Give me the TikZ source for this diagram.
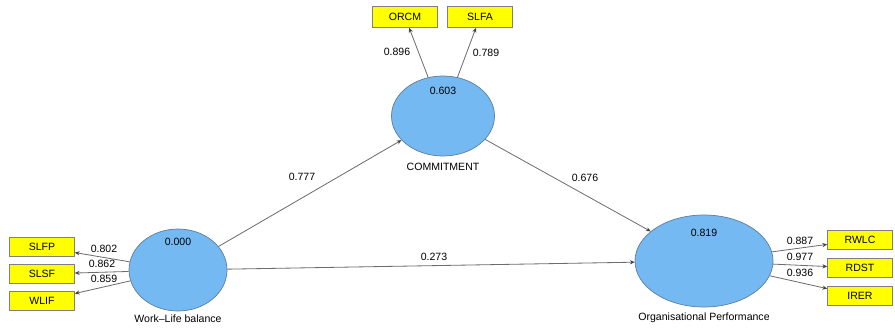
\documentclass[tikz,border=0pt]{standalone}
\usepackage{fontspec}
\setmainfont{Liberation Sans}
\usetikzlibrary{shapes.geometric, arrows.meta}
\definecolor{lvblue}{HTML}{74B9F2}
\definecolor{lvedge}{HTML}{5F7D9C}
\definecolor{mvyellow}{HTML}{FFFF00}
\tikzset{
  latent/.style={draw=lvedge, fill=lvblue, ellipse, inner sep=0pt, line width=0.6pt},
  manifest/.style={draw=gray, fill=mvyellow, minimum width=1.95cm, minimum height=0.56cm, inner sep=0pt, line width=0.6pt},
  path/.style={draw=gray!85!black, line width=0.7pt, -{Stealth[length=4pt, width=3.5pt, color=black!75]}},
  coef/.style={inner sep=0pt}
}
\begin{document}
\begin{tikzpicture}[x=0.03cm, y=-0.03cm, font=\fontsize{9}{11}\selectfont]
        \useasboundingbox (0, 0) rectangle (895, 328);
        % latent variables
        \node[latent, minimum width=2.94cm, minimum height=2.46cm] (WLB) at (178, 270) {};
        \node[latent, minimum width=3.09cm, minimum height=2.4cm] (COM) at (443, 116) {};
        \node[latent, minimum width=4.14cm, minimum height=2.76cm] (OP) at (704, 261) {};
        \node[coef] (R2wlb) at (178, 242) {0.000};
        \node[coef] (R2com) at (443, 91) {0.603};
        \node[coef] (R2op) at (704, 233) {0.819};
        \node (Nwlb) at (178, 319) {Work--Life balance};
        \node (Ncom) at (443, 167) {COMMITMENT};
        \node (Nop) at (704, 318) {Organisational Performance};
        % indicators
        \node[manifest] (SLFP) at (42, 247) {SLFP};
        \node[manifest] (SLSF) at (42, 274) {SLSF};
        \node[manifest] (WLIF) at (42, 301) {WLIF};
        \node[manifest, minimum height=0.63cm] (ORCM) at (405, 17) {ORCM};
        \node[manifest, minimum height=0.63cm] (SLFA) at (480, 17) {SLFA};
        \node[manifest] (RWLC) at (860, 240) {RWLC};
        \node[manifest] (RDST) at (860, 268) {RDST};
        \node[manifest] (IRER) at (860, 296) {IRER};
        % loadings
        \draw[path] (WLB) -- (SLFP);
        \draw[path] (WLB) -- (SLSF);
        \draw[path] (WLB) -- (WLIF);
        \draw[path] (COM) -- (ORCM);
        \draw[path] (COM) -- (SLFA);
        \draw[path] (OP) -- (RWLC);
        \draw[path] (OP) -- (RDST);
        \draw[path] (OP) -- (IRER);
        \node[coef] (L1) at (104, 249) {0.802};
        \node[coef] (L2) at (102, 264) {0.862};
        \node[coef] (L3) at (104, 279) {0.859};
        \node[coef] (L4) at (397, 52) {0.896};
        \node[coef] (L5) at (486, 53) {0.789};
        \node[coef] (L6) at (800, 241) {0.887};
        \node[coef] (L7) at (800, 257) {0.977};
        \node[coef] (L8) at (800, 273) {0.936};
        % structural paths
        \draw[path] (WLB) -- (COM);
        \draw[path] (COM) -- (OP);
        \draw[path] (WLB) -- (OP);
        \node[coef] (B1) at (302, 177) {0.777};
        \node[coef] (B2) at (585, 178) {0.676};
        \node[coef] (B3) at (434, 257) {0.273};
\end{tikzpicture}
\end{document}
